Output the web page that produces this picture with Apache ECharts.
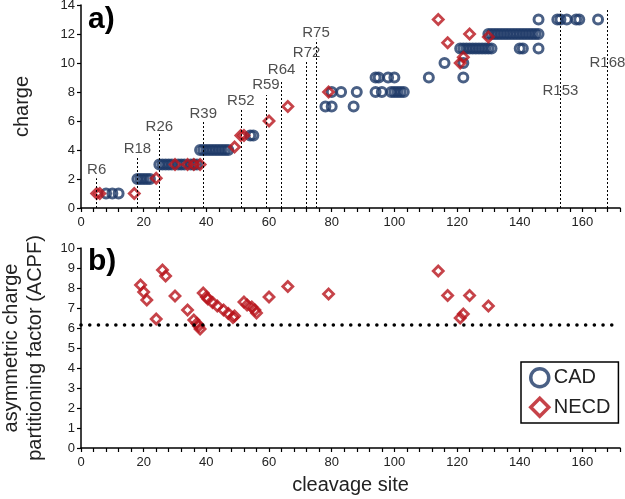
<!DOCTYPE html>
<html>
<head>
<meta charset="utf-8">
<script src="https://cdn.jsdelivr.net/npm/echarts@6/dist/echarts.min.js"></script>
<style>
  html, body { margin: 0; padding: 0; background: #fff; }
  #chart { width: 625px; height: 499px; }
</style>
</head>
<body>
<div id="chart"></div>
<script>
// panel a) charge of each fragment vs cleavage site, [site, charge]
const cadPoints = [
  [8, 1], [10, 1], [12, 1],
  [18, 2], [19, 2], [20, 2], [21, 2], [22, 2],
  [25, 3], [26, 3], [27, 3], [28, 3], [29, 3], [31, 3], [32, 3], [33, 3], [35, 3], [36, 3], [37, 3],
  [38, 4], [39, 4], [40, 4], [41, 4], [42, 4], [43, 4], [44, 4], [45, 4], [46, 4], [47, 4],
  [54, 5], [55, 5],
  [78, 7], [80, 7], [87, 7],
  [80, 8], [83, 8], [88, 8], [94, 8], [96, 8], [99, 8], [100, 8], [101, 8], [102, 8], [103, 8],
  [94, 9], [95, 9], [98, 9], [100, 9], [111, 9], [122, 9],
  [116, 10], [122, 10],
  [121, 11], [122, 11], [123, 11], [124, 11], [125, 11], [126, 11], [127, 11], [128, 11], [129, 11],
  [130, 11], [131, 11], [140, 11], [141, 11], [146, 11],
  [130, 12], [131, 12], [132, 12], [133, 12], [134, 12], [135, 12], [136, 12], [137, 12], [138, 12],
  [139, 12], [140, 12], [141, 12], [142, 12], [143, 12], [144, 12], [145, 12], [146, 12],
  [146, 13], [152, 13], [153, 13], [155, 13], [158, 13], [159, 13], [165, 13]
];
const necdPoints = [
  [5, 1], [6, 1], [17, 1], [24, 2.05], [30, 3], [34, 3], [36, 3], [38, 3], [49, 4.2],
  [51, 5], [52, 5], [60, 6], [66, 7], [79, 8],
  [114, 13], [117, 11.4], [121, 10], [122, 10.4], [124, 12], [130, 11.8]
];

// arginine positions marked with dotted lines
const argNames  = ['R6', 'R18', 'R26', 'R39', 'R52', 'R59', 'R64', 'R72', 'R75', 'R153', 'R168'];
const argSites  = [5, 18, 25, 39, 51, 59, 64, 72, 75, 153, 168];
const argTops   = [2.05, 3.55, 5.15, 5.95, 6.9, 7.8, 8.8, 10.2, 11.6, 13.6, 13.65];
const argLabelY = [2.6, 4.1, 5.6, 6.5, 7.4, 8.5, 9.5, 10.7, 12.05, 8.1, 10.0];

// panel b) ACPF of NECD cleavages, [site, ACPF]
const acpfPoints = [
  [19, 8.15], [20, 7.8], [21, 7.4], [24, 6.45], [26, 8.9], [27, 8.6], [30, 7.6], [34, 6.9],
  [36, 6.4], [37, 6.22], [37.5, 6.1], [38, 5.95], [39, 7.75], [40, 7.55], [40.5, 7.45],
  [42, 7.28], [43.5, 7.1], [45.5, 6.9], [47, 6.72], [48.5, 6.52], [49, 6.6],
  [52, 7.3], [53, 7.15], [54.5, 7.05], [55.5, 6.9], [56, 6.75], [60, 7.55], [66, 8.07], [79, 7.7],
  [114, 8.85], [117, 7.62], [121, 6.5], [122, 6.7], [124, 7.62], [130, 7.1]
];
const acpfThreshold = 6.15;

const blue = '#1d3866';
const red = '#b8141c';
const font = 'Liberation Sans';

const myChart = echarts.init(document.getElementById('chart'));

function xAxisFor(gridIndex, withName) {
  return {
    type: 'value', gridIndex: gridIndex, min: 0, max: 172, interval: 4,
    splitLine: { show: false },
    axisLine: { lineStyle: { color: '#000', width: 1.5 } },
    axisTick: { length: 4, lineStyle: { color: '#000', width: 1.2 } },
    axisLabel: {
      color: '#222', fontSize: 13, fontFamily: font, margin: 8,
      formatter: function (v) { return v % 20 === 0 ? String(v) : ''; }
    },
    name: withName ? 'cleavage site' : '',
    nameLocation: 'middle', nameGap: 27,
    nameTextStyle: { color: '#222', fontSize: 20, fontFamily: font }
  };
}

function yAxisFor(gridIndex, max, step, name, gap) {
  return {
    type: 'value', gridIndex: gridIndex, min: 0, max: max, interval: step,
    splitLine: { show: false },
    axisLine: { show: true, lineStyle: { color: '#000', width: 1.5 } },
    axisTick: { show: true, length: 4, lineStyle: { color: '#000', width: 1.2 } },
    axisLabel: { color: '#222', fontSize: 13, fontFamily: font, margin: 6 },
    name: name, nameLocation: 'middle', nameGap: gap,
    nameTextStyle: { color: '#222', fontSize: 20, fontFamily: font, lineHeight: 24 }
  };
}

const option = {
  animation: false,
  backgroundColor: '#fff',
  grid: [
    { left: 81, right: 5, top: 5, height: 203, outerBoundsMode: 'none' },
    { left: 81, right: 5, top: 248, height: 200, outerBoundsMode: 'none' }
  ],
  xAxis: [xAxisFor(0, false), xAxisFor(1, true)],
  yAxis: [
    yAxisFor(0, 14, 2, 'charge', 47),
    yAxisFor(1, 10, 1, 'asymmetric charge\npartitioning factor (ACPF)', 34)
  ],
  legend: {
    data: ['CAD', 'NECD'],
    orient: 'vertical', left: 521, top: 362,
    borderColor: '#000', borderWidth: 1.5, padding: [5, 8],
    itemGap: 8, itemWidth: 18, itemHeight: 18,
    itemStyle: { borderWidth: 3.5 },
    textStyle: { color: '#222', fontSize: 20, fontFamily: font }
  },
  graphic: [
    { type: 'text', left: 88, top: 5, style: { text: 'a)', font: 'bold 30px "Liberation Sans"', fill: '#000' } },
    { type: 'text', left: 88, top: 247, style: { text: 'b)', font: 'bold 30px "Liberation Sans"', fill: '#000' } }
  ],
  series: [
    {
      name: 'CAD', type: 'scatter', xAxisIndex: 0, yAxisIndex: 0,
      symbol: 'circle', symbolSize: 9,
      itemStyle: { color: 'rgba(0,0,0,0)', borderColor: blue, borderWidth: 3 },
      data: cadPoints,
      markLine: {
        silent: true, symbol: 'none', animation: false,
        lineStyle: { color: '#000', width: 1, type: [2, 2] },
        label: { show: false },
        data: argSites.map(function (s, i) {
          return [{ coord: [s, 0] }, { coord: [s, argTops[i]] }];
        })
      }
    },
    {
      name: 'NECD', type: 'scatter', xAxisIndex: 0, yAxisIndex: 0,
      symbol: 'diamond', symbolSize: 10,
      itemStyle: { color: 'rgba(0,0,0,0)', borderColor: red, borderWidth: 2.8 },
      data: necdPoints
    },
    {
      name: 'labels', type: 'scatter', xAxisIndex: 0, yAxisIndex: 0,
      symbolSize: 1, itemStyle: { color: 'rgba(0,0,0,0)' }, silent: true,
      label: {
        show: true, position: 'inside', color: '#222', fontSize: 15, fontFamily: font,
        formatter: function (p) { return p.data[2]; }
      },
      data: argSites.map(function (s, i) { return [s, argLabelY[i], argNames[i]]; })
    },
    {
      name: 'NECD', type: 'scatter', xAxisIndex: 1, yAxisIndex: 1,
      symbol: 'diamond', symbolSize: 10,
      itemStyle: { color: 'rgba(0,0,0,0)', borderColor: red, borderWidth: 2.8 },
      data: acpfPoints,
      markLine: {
        silent: true, symbol: 'none', animation: false,
        lineStyle: { color: '#000', width: 3.5, type: [0.1, 8.6], cap: 'round' },
        label: { show: false },
        data: [{ yAxis: acpfThreshold }]
      }
    }
  ]
};

myChart.setOption(option);
window.addEventListener('resize', function () {
  myChart.resize();
});
</script>
</body>
</html>
